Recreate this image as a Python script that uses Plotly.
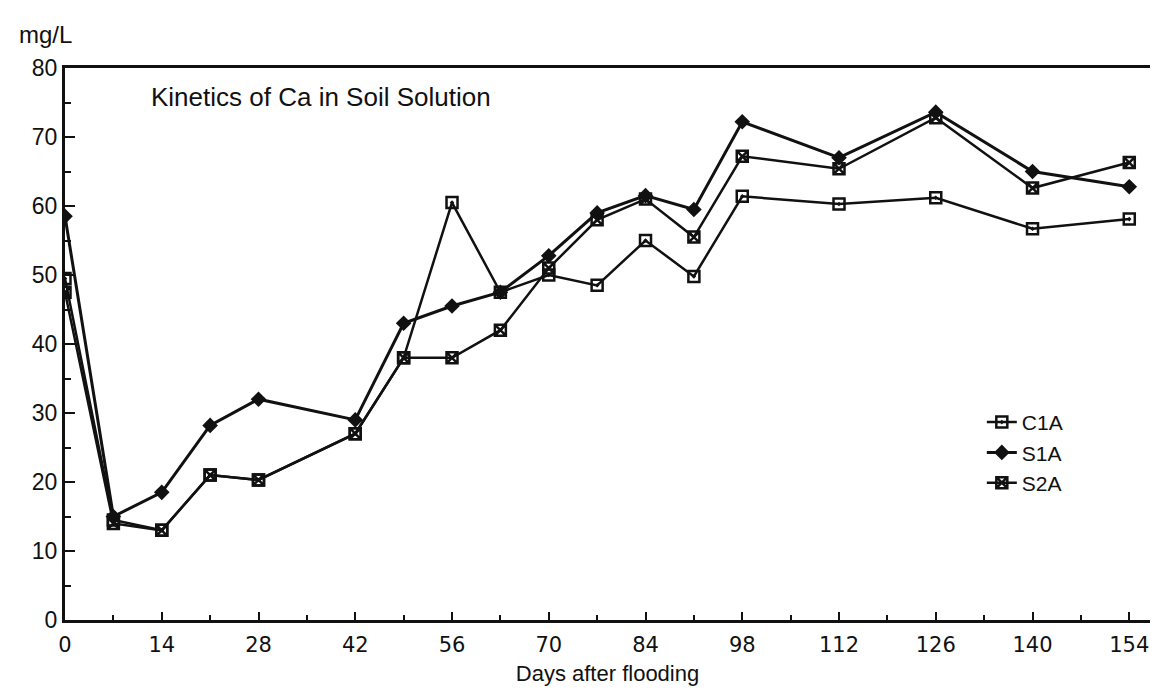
import plotly.graph_objects as go

# Sampling days after flooding
days = [0, 7, 14, 21, 28, 42, 49, 56, 63, 70, 77, 84, 91, 98, 112, 126, 140, 154]

# Ca concentration in soil solution (mg/L)
c1a = [49.5, 14.5, 13.0, 21.0, 20.3, 27.0, 38.0, 60.5, 47.5, 50.0, 48.5, 55.0, 49.8, 61.4, 60.3, 61.2, 56.7, 58.1]
s1a = [58.5, 15.0, 18.5, 28.2, 32.0, 29.0, 43.0, 45.5, 47.5, 52.8, 59.0, 61.5, 59.5, 72.2, 67.0, 73.6, 65.0, 62.8]
s2a = [47.5, 14.0, 13.0, 21.0, 20.3, 27.0, 38.0, 38.0, 42.0, 51.0, 58.0, 61.0, 55.5, 67.2, 65.4, 72.8, 62.6, 66.3]

x_ticks = [0, 14, 28, 42, 56, 70, 84, 98, 112, 126, 140, 154]
y_ticks = [0, 10, 20, 30, 40, 50, 60, 70, 80]

font_family = "Liberation Sans, Arial, sans-serif"
ink = "#111111"

fig = go.Figure()

fig.add_trace(go.Scatter(
    x=days, y=c1a, name="C1A", mode="lines+markers",
    line=dict(color=ink, width=2.5),
    marker=dict(symbol="square-open-dot", size=11, color=ink, line=dict(width=2.5, color=ink)),
))
fig.add_trace(go.Scatter(
    x=days, y=s1a, name="S1A", mode="lines+markers",
    line=dict(color=ink, width=3),
    marker=dict(symbol="diamond", size=12, color=ink),
))
fig.add_trace(go.Scatter(
    x=days, y=s2a, name="S2A", mode="lines+markers",
    line=dict(color=ink, width=2.5),
    marker=dict(symbol="square-x-open", size=11, color=ink, line=dict(width=2.5, color=ink)),
))

fig.update_layout(
    width=1166, height=695,
    margin=dict(l=65, r=16, t=68, b=75),
    paper_bgcolor="white", plot_bgcolor="white",
    font=dict(family=font_family, size=20, color=ink),
    showlegend=True,
    legend=dict(
        x=0.845, y=0.395, xanchor="left", yanchor="top",
        bgcolor="rgba(0,0,0,0)", font=dict(size=21),
        itemwidth=30, tracegroupgap=0,
    ),
    annotations=[
        dict(text="mg/L", x=-0.044, y=1.0, xref="paper", yref="paper",
             xanchor="left", yanchor="bottom", yshift=18, showarrow=False,
             font=dict(size=24)),
        dict(text="Kinetics of Ca in Soil Solution", x=12.2, y=75.8,
             xref="x", yref="y", xanchor="left", yanchor="middle",
             showarrow=False, font=dict(size=26)),
    ],
)

fig.update_xaxes(
    range=[0, 157], tickmode="array", tickvals=x_ticks,
    ticktext=[str(v) for v in x_ticks],
    showline=True, linecolor=ink, linewidth=3, mirror=True,
    ticks="inside", ticklen=8, tickwidth=2, tickcolor=ink,
    minor=dict(dtick=7, tick0=0, ticks="inside", ticklen=5, tickwidth=2, tickcolor=ink),
    showgrid=False, zeroline=False,
    tickfont=dict(size=21, family="DejaVu Sans, sans-serif"), ticklabelstandoff=4,
    title=dict(text="Days after flooding", font=dict(size=22), standoff=10),
)
fig.update_yaxes(
    range=[0, 80], tickmode="array", tickvals=y_ticks,
    showline=True, linecolor=ink, linewidth=3, mirror=False,
    ticks="inside", ticklen=10, tickwidth=2, tickcolor=ink,
    minor=dict(dtick=5, tick0=0, ticks="inside", ticklen=6, tickwidth=2, tickcolor=ink),
    showgrid=False, zeroline=False,
    tickfont=dict(size=23),
)

fig.write_html("out.html")
